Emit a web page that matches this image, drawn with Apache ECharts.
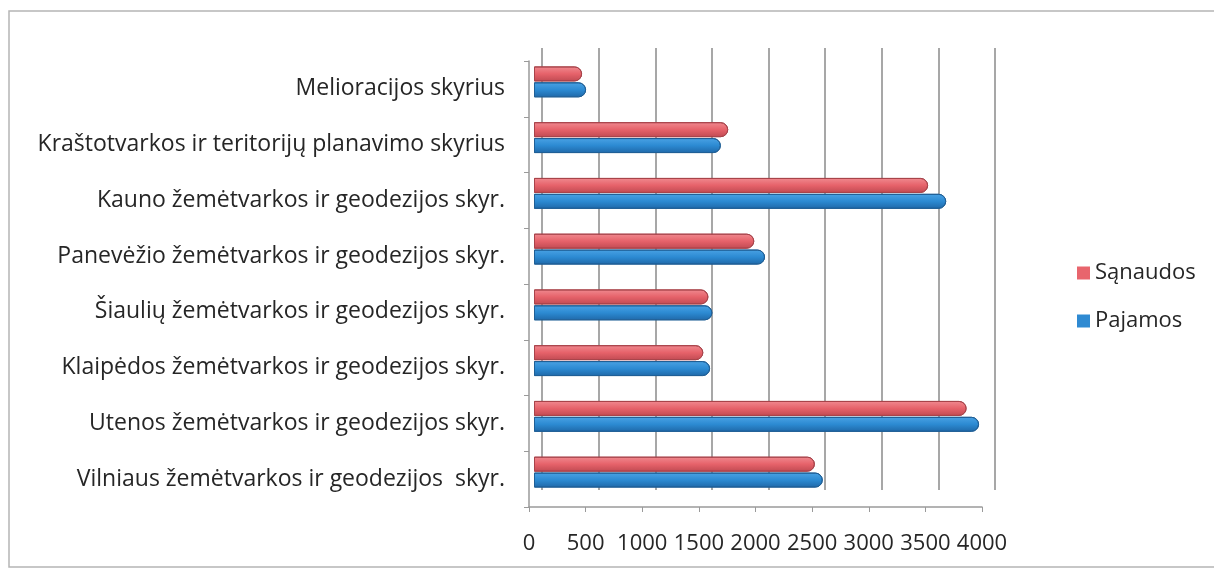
<!DOCTYPE html>
<html>
<head>
<meta charset="utf-8">
<script src="https://cdn.jsdelivr.net/npm/echarts@6/dist/echarts.min.js"></script>
<style>
html, body { margin: 0; padding: 0; background: #fff; }
#chart { width: 1214px; height: 572px; }
</style>
</head>
<body>
<div id="chart"></div>
<script>
// categories listed bottom to top (category axis starts at bottom)
const categories = [
    'Vilniaus žemėtvarkos ir geodezijos  skyr.',
    'Utenos žemėtvarkos ir geodezijos skyr.',
    'Klaipėdos žemėtvarkos ir geodezijos skyr.',
    'Šiaulių žemėtvarkos ir geodezijos skyr.',
    'Panevėžio žemėtvarkos ir geodezijos skyr.',
    'Kauno žemėtvarkos ir geodezijos skyr.',
    'Kraštotvarkos ir teritorijų planavimo skyrius',
    'Melioracijos skyrius'
];
const sanaudos = [2480, 3820, 1495, 1540, 1945, 3480, 1715, 425];
const pajamos = [2550, 3930, 1555, 1575, 2040, 3640, 1650, 460];
const xMax = 4000;
const xStep = 500;

let myChart = echarts.init(document.getElementById('chart'));

const fontName = 'Open Sans';
const textColor = '#262626';
const lineColor = '#9a9a9a';

function barGradient(top, mid, bottom) {
    return new echarts.graphic.LinearGradient(0, 0, 0, 1, [
        { offset: 0, color: top },
        { offset: 0.5, color: mid },
        { offset: 1, color: bottom }
    ]);
}

let option = {
    backgroundColor: '#fff',
    textStyle: { fontFamily: fontName },
    legend: {
        orient: 'vertical',
        left: 1072,
        top: 257,
        itemGap: 26,
        itemWidth: 13,
        itemHeight: 13,
        icon: 'rect',
        itemStyle: { borderWidth: 0 },
        data: [
            { name: 'Sąnaudos', itemStyle: { color: '#e8656d', borderWidth: 0 } },
            { name: 'Pajamos', itemStyle: { color: '#2f8ad2', borderWidth: 0 } }
        ],
        textStyle: { fontSize: 22, color: textColor, fontFamily: fontName }
    },
    grid: [
        // front plane: labels and axis lines
        { left: 529, width: 453, top: 61, height: 446 },
        // back wall: gridlines
        { left: 542, width: 453, top: 48, height: 442 },
        // bars sit between the two planes
        { left: 534, width: 453, top: 54, height: 446 }
    ],
    xAxis: [
        {
            gridIndex: 0, type: 'value', min: 0, max: xMax, interval: xStep,
            axisLine: { show: true, lineStyle: { color: lineColor, width: 1.5 } },
            axisTick: { show: true, length: 5, lineStyle: { color: lineColor } },
            splitLine: { show: false },
            axisLabel: {
                fontSize: 22, color: textColor, margin: 26, fontFamily: fontName,
                formatter: v => String(v)
            }
        },
        {
            gridIndex: 1, type: 'value', min: 0, max: xMax, interval: xStep,
            axisLine: { show: false }, axisTick: { show: false }, axisLabel: { show: false },
            splitLine: { show: true, lineStyle: { color: '#8a8a8a', width: 1.5 } }
        },
        {
            gridIndex: 2, type: 'value', min: 0, max: xMax, interval: xStep,
            show: false
        }
    ],
    yAxis: [
        {
            gridIndex: 0, type: 'category', data: categories,
            axisLine: { show: true, lineStyle: { color: lineColor, width: 1.5 } },
            axisTick: { show: true, length: 5, lineStyle: { color: lineColor } },
            axisLabel: { fontSize: 23, color: textColor, margin: 24, fontFamily: fontName }
        },
        {
            gridIndex: 1, type: 'category', data: categories, show: false
        },
        {
            gridIndex: 2, type: 'category', data: categories, show: false
        }
    ],
    series: [
        {
            name: 'Sąnaudos',
            type: 'bar',
            xAxisIndex: 2,
            yAxisIndex: 2,
            barWidth: 15,
            barGap: '6%',
            data: sanaudos,
            itemStyle: {
                color: barGradient('#f08a90', '#e6626a', '#c04a52'),
                borderColor: '#a8434a',
                borderWidth: 1,
                borderRadius: [0, 7, 7, 0]
            }
        },
        {
            name: 'Pajamos',
            type: 'bar',
            xAxisIndex: 2,
            yAxisIndex: 2,
            barWidth: 15,
            data: pajamos,
            itemStyle: {
                color: barGradient('#4aa2e4', '#2c8ad2', '#1f68a8'),
                borderColor: '#1f5f96',
                borderWidth: 1,
                borderRadius: [0, 7, 7, 0]
            }
        }
    ],
    graphic: [
        {
            type: 'rect',
            shape: { x: 9, y: 11, width: 1220, height: 556 },
            style: { fill: 'none', stroke: '#b5b5b5', lineWidth: 1.5 },
            silent: true
        }
    ]
};

myChart.setOption(option);
</script>
</body>
</html>
